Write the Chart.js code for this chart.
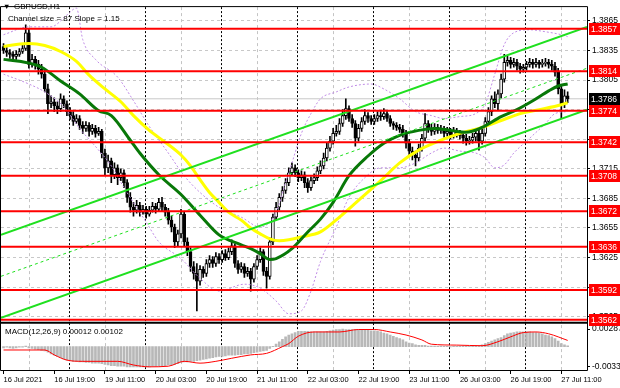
<!DOCTYPE html>
<html><head><meta charset="utf-8">
<script src="https://cdn.jsdelivr.net/npm/chart.js@4.4.1/dist/chart.umd.min.js"></script>
<style>html,body{margin:0;padding:0;background:#fff;overflow:hidden}canvas{display:block}</style>
</head><body>
<canvas id="c" width="620" height="388"></canvas>
<script>
// ---------- texts ----------
const symbolTitle = 'GBPUSD,H1';
const channelInfo = 'Channel size = 87 Slope = 1.15';
const macdTitle = 'MACD(12,26,9) 0.00012 0.00102';

// ---------- time axis (bar index -> label) ----------
const tickBars = [0,16,32,48,64,80,96,112,128,144,160,176];
const tickLabels = ['16 Jul 2021','16 Jul 19:00','19 Jul 11:00','20 Jul 03:00','20 Jul 19:00','21 Jul 11:00','22 Jul 03:00','22 Jul 19:00','23 Jul 11:00','26 Jul 03:00','26 Jul 19:00','27 Jul 11:00'];
const gridBars = [8,32,56,80,104,128,152,176];
const daySeparatorBars = [20.5,44.5,68.5,92.5,116.5,140.5,164.5];

// ---------- price ticks / levels ----------
const priceTicks = [1.3565,1.3595,1.3625,1.3655,1.3685,1.3715,1.3745,1.3775,1.3805,1.3835,1.3865];
const levels = [1.3857,1.3814,1.3774,1.3742,1.3708,1.3672,1.3636,1.3592,1.3562];
const lastPrice = 1.3786;
const macdTicks = [-0.00332,0,0.00287];

// ---------- OHLC (H1 bars) ----------
const open = [
1.3839,1.3835,1.3833,1.3831,1.3829,1.3831,1.3834,1.3837,1.3853,1.3821,
1.3826,1.3821,1.3816,1.3811,1.3796,1.3781,1.3783,1.3779,1.3776,1.3786,
1.3781,1.3773,1.3769,1.3763,1.3766,1.3759,1.3756,1.3759,1.3753,1.3756,
1.3751,1.3753,1.3731,1.3716,1.3723,1.3709,1.3716,1.3706,1.3711,1.3701,
1.3686,1.3676,1.3673,1.3678,1.3671,1.3674,1.3669,1.3673,1.3677,1.3674,
1.3681,1.3676,1.3671,1.3663,1.3656,1.3641,1.3649,1.3669,1.3641,1.3631,
1.3616,1.3609,1.3601,1.3613,1.3609,1.3619,1.3623,1.3619,1.3626,1.3623,
1.3629,1.3625,1.3631,1.3637,1.3619,1.3613,1.3616,1.3609,1.3611,1.3603,
1.3616,1.3623,1.3631,1.3611,1.3606,1.3641,1.3666,1.3676,1.3686,1.3693,
1.3701,1.3711,1.3716,1.3711,1.3706,1.3709,1.3701,1.3696,1.3703,1.3706,
1.3713,1.3718,1.3726,1.3736,1.3743,1.3751,1.3753,1.3761,1.3769,1.3776,
1.3766,1.3761,1.3746,1.3756,1.3763,1.3769,1.3766,1.3763,1.3766,1.3769,
1.3768,1.3771,1.3766,1.3761,1.3759,1.3757,1.3755,1.3751,1.3741,1.3733,
1.3729,1.3726,1.3736,1.3746,1.3761,1.3756,1.3753,1.3757,1.3754,1.3755,
1.3751,1.3753,1.3749,1.3753,1.3751,1.3749,1.3746,1.3743,1.3744,1.3747,
1.3751,1.3743,1.3751,1.3763,1.3773,1.3786,1.3781,1.3791,1.3806,1.3823,
1.3825,1.3821,1.3823,1.3819,1.3816,1.3818,1.3821,1.3823,1.3821,1.3823,
1.3821,1.3822,1.3823,1.3821,1.3819,1.3813,1.3796,1.3781,1.3789];
const high = [
1.3842,1.3838,1.3836,1.3834,1.3835,1.3837,1.3841,1.3861,1.3857,1.3831,
1.3829,1.3825,1.3821,1.3815,1.3801,1.3789,1.3787,1.3783,1.3791,1.3789,
1.3784,1.3777,1.3773,1.3770,1.3769,1.3763,1.3763,1.3762,1.3760,1.3759,
1.3757,1.3755,1.3735,1.3729,1.3726,1.3721,1.3719,1.3715,1.3714,1.3704,
1.3691,1.3681,1.3683,1.3681,1.3678,1.3677,1.3677,1.3681,1.3680,1.3685,
1.3686,1.3679,1.3675,1.3667,1.3659,1.3653,1.3674,1.3672,1.3645,1.3635,
1.3621,1.3619,1.3617,1.3616,1.3623,1.3627,1.3626,1.3630,1.3629,1.3632,
1.3633,1.3635,1.3643,1.3639,1.3622,1.3620,1.3619,1.3615,1.3614,1.3619,
1.3627,1.3635,1.3633,1.3615,1.3645,1.3669,1.3681,1.3690,1.3697,1.3705,
1.3716,1.3721,1.3719,1.3714,1.3713,1.3712,1.3705,1.3707,1.3710,1.3717,
1.3723,1.3731,1.3741,1.3748,1.3756,1.3759,1.3766,1.3775,1.3786,1.3779,
1.3770,1.3764,1.3760,1.3767,1.3775,1.3772,1.3769,1.3770,1.3773,1.3774,
1.3776,1.3774,1.3769,1.3763,1.3762,1.3760,1.3759,1.3754,1.3745,1.3737,
1.3733,1.3740,1.3750,1.3771,1.3764,1.3760,1.3761,1.3760,1.3759,1.3758,
1.3757,1.3756,1.3757,1.3756,1.3754,1.3752,1.3750,1.3748,1.3751,1.3754,
1.3754,1.3755,1.3767,1.3777,1.3789,1.3793,1.3795,1.3811,1.3831,1.3829,
1.3828,1.3827,1.3826,1.3822,1.3821,1.3824,1.3827,1.3826,1.3827,1.3825,
1.3826,1.3827,1.3826,1.3825,1.3823,1.3817,1.3799,1.3795,1.3793];
const low = [
1.3832,1.3829,1.3827,1.3825,1.3826,1.3829,1.3832,1.3835,1.3817,1.3818,
1.3816,1.3811,1.3807,1.3793,1.3771,1.3777,1.3773,1.3771,1.3773,1.3777,
1.3769,1.3765,1.3759,1.3761,1.3755,1.3751,1.3753,1.3748,1.3750,1.3747,
1.3749,1.3726,1.3709,1.3711,1.3701,1.3705,1.3699,1.3703,1.3696,1.3681,
1.3671,1.3667,1.3670,1.3667,1.3669,1.3665,1.3667,1.3671,1.3670,1.3672,
1.3672,1.3667,1.3659,1.3651,1.3635,1.3637,1.3645,1.3636,1.3627,1.3611,
1.3603,1.3571,1.3597,1.3605,1.3606,1.3615,1.3615,1.3616,1.3619,1.3620,
1.3622,1.3623,1.3628,1.3615,1.3609,1.3610,1.3605,1.3606,1.3591,1.3600,
1.3613,1.3620,1.3607,1.3594,1.3603,1.3638,1.3663,1.3673,1.3682,1.3690,
1.3698,1.3708,1.3707,1.3702,1.3703,1.3696,1.3691,1.3693,1.3700,1.3703,
1.3710,1.3715,1.3723,1.3733,1.3740,1.3748,1.3750,1.3758,1.3765,1.3763,
1.3757,1.3738,1.3743,1.3753,1.3760,1.3762,1.3760,1.3760,1.3763,1.3764,
1.3765,1.3763,1.3758,1.3755,1.3754,1.3752,1.3747,1.3736,1.3729,1.3724,
1.3718,1.3723,1.3733,1.3743,1.3752,1.3749,1.3750,1.3751,1.3751,1.3747,
1.3748,1.3745,1.3746,1.3747,1.3745,1.3741,1.3739,1.3740,1.3741,1.3743,
1.3734,1.3740,1.3748,1.3760,1.3769,1.3777,1.3775,1.3787,1.3803,1.3819,
1.3817,1.3818,1.3815,1.3812,1.3813,1.3815,1.3818,1.3817,1.3818,1.3817,
1.3818,1.3819,1.3817,1.3815,1.3809,1.3791,1.3766,1.3777,1.3782];
const close = [
1.3835,1.3833,1.3831,1.3829,1.3831,1.3834,1.3837,1.3853,1.3821,1.3826,
1.3821,1.3816,1.3811,1.3796,1.3781,1.3783,1.3779,1.3776,1.3786,1.3781,
1.3773,1.3769,1.3763,1.3766,1.3759,1.3756,1.3759,1.3753,1.3756,1.3751,
1.3753,1.3731,1.3716,1.3723,1.3709,1.3716,1.3706,1.3711,1.3701,1.3686,
1.3676,1.3673,1.3678,1.3671,1.3674,1.3669,1.3673,1.3677,1.3674,1.3681,
1.3676,1.3671,1.3663,1.3656,1.3641,1.3649,1.3669,1.3641,1.3631,1.3616,
1.3609,1.3601,1.3613,1.3609,1.3619,1.3623,1.3619,1.3626,1.3623,1.3629,
1.3625,1.3631,1.3637,1.3619,1.3613,1.3616,1.3609,1.3611,1.3603,1.3616,
1.3623,1.3631,1.3611,1.3606,1.3641,1.3666,1.3676,1.3686,1.3693,1.3701,
1.3711,1.3716,1.3711,1.3706,1.3709,1.3701,1.3696,1.3703,1.3706,1.3713,
1.3718,1.3726,1.3736,1.3743,1.3751,1.3753,1.3761,1.3769,1.3776,1.3766,
1.3761,1.3746,1.3756,1.3763,1.3769,1.3766,1.3763,1.3766,1.3769,1.3768,
1.3771,1.3766,1.3761,1.3759,1.3757,1.3755,1.3751,1.3741,1.3733,1.3729,
1.3726,1.3736,1.3746,1.3761,1.3756,1.3753,1.3757,1.3754,1.3755,1.3751,
1.3753,1.3749,1.3753,1.3751,1.3749,1.3746,1.3743,1.3744,1.3747,1.3751,
1.3743,1.3751,1.3763,1.3773,1.3786,1.3781,1.3791,1.3806,1.3823,1.3825,
1.3821,1.3823,1.3819,1.3816,1.3818,1.3821,1.3823,1.3821,1.3823,1.3821,
1.3822,1.3823,1.3821,1.3819,1.3813,1.3796,1.3781,1.3789,1.3786];

// ---------- indicators (read at sample bars) ----------
const maSlowBars = [0,4,8,13,18,23,27,32,37,41,46,51,56,59,62,65,68,71,75,78,81,84,87,90,94,100,106,112,119,125,131,138,144,150,157,163,169,176,178];
const maSlowVals = [1.3839,1.3841,1.3842,1.3840,1.3834,1.3824,1.3810,1.3796,1.3783,1.3769,1.3754,1.3742,1.3729,1.3718,1.3704,1.3691,1.3681,1.3671,1.3663,1.3655,1.3649,1.3644,1.3642,1.3643,1.3646,1.3651,1.3666,1.3683,1.3703,1.3721,1.3734,1.3744,1.3751,1.3756,1.3764,1.3771,1.3775,1.3780,1.3782];
const maFastBars = [0,5,12,18,24,30,34,40,43,49,56,62,68,75,78,81,84,86,91,96,100,104,109,115,120,125,131,136,141,146,151,157,162,167,172,175,178];
const maFastVals = [1.3826,1.3824,1.3818,1.3804,1.3791,1.3774,1.3769,1.3744,1.3731,1.3709,1.3689,1.3668,1.3648,1.3638,1.3634,1.3629,1.3623,1.3624,1.3634,1.3651,1.3664,1.3681,1.3708,1.3728,1.3741,1.3749,1.3754,1.3756,1.3754,1.3752,1.3757,1.3768,1.3775,1.3784,1.3794,1.3799,1.3801];
const bandUpBars = [0,8,15,20,23,25,29,36,41,46,52,57,62,68,75,81,86,89,91,94,97,100,105,109,116,120,125,130,135,139,144,149,152,155,158,161,166,171,176,178];
const bandUpVals = [1.3851,1.3859,1.3859,1.3871,1.3878,1.3846,1.3826,1.3808,1.3784,1.3758,1.3731,1.3708,1.3691,1.3676,1.3666,1.3656,1.3671,1.3701,1.3721,1.3751,1.3771,1.3786,1.3793,1.3798,1.3801,1.3796,1.3786,1.3773,1.3769,1.3766,1.3768,1.3771,1.3781,1.3811,1.3841,1.3853,1.3856,1.3854,1.3851,1.3849];
const bandLoBars = [0,8,13,19,24,30,34,38,45,49,56,62,68,76,81,86,90,94,97,100,105,109,114,119,125,130,135,139,144,149,152,155,158,161,166,171,174,178];
const bandLoVals = [1.3811,1.3801,1.3793,1.3778,1.3756,1.3734,1.3718,1.3696,1.3661,1.3641,1.3624,1.3604,1.3591,1.3598,1.3594,1.3581,1.3568,1.3571,1.3591,1.3621,1.3656,1.3686,1.3706,1.3716,1.3716,1.3721,1.3731,1.3736,1.3733,1.3731,1.3726,1.3716,1.3719,1.3731,1.3746,1.3761,1.3771,1.3773];

// regression channel: prices at left and right edge of the window
const channelBars = [-0.8, 184.1];
const channelUpper = [1.3648, 1.3859];
const channelMiddle = [1.3606, 1.3817];
const channelLower = [1.3564, 1.3775];

// MACD
const macdHist = [
-0.0002,-0.0001,-0.0002,-0.0003,-0.0002,-0.0001,-0.0001,0.0001,-0.0002,-0.0003,-0.0004,-0.0005,-0.0006,-0.0007,
-0.0009,-0.0012,-0.0014,-0.0016,-0.0018,-0.0020,-0.0022,
-0.0023,-0.0024,-0.0024,-0.0025,-0.0025,-0.0026,-0.0026,-0.0027,-0.0027,-0.0027,
-0.0028,-0.0029,-0.0030,-0.0031,-0.0031,-0.0032,-0.0032,-0.0032,-0.0033,-0.0033,-0.0033,
-0.0033,-0.0033,-0.0033,-0.0033,-0.0033,-0.0032,-0.0032,-0.0032,-0.0031,-0.0031,-0.0030,
-0.0030,-0.0029,-0.0028,-0.0026,-0.0025,-0.0025,-0.0024,-0.0024,-0.0023,-0.0022,
-0.0021,-0.0020,-0.0019,-0.0018,-0.0017,-0.0016,-0.0016,-0.0015,-0.0014,-0.0014,
-0.0014,-0.0013,-0.0013,-0.0012,-0.0012,-0.0011,-0.0010,-0.0009,-0.0008,-0.0007,-0.0006,-0.0003,
0.00003,0.0004,0.0008,0.0012,0.0016,0.0019,0.0021,0.0023,0.0025,
0.0025,0.0025,0.0025,0.0024,0.0024,0.0024,0.0024,0.0024,0.0025,0.0026,0.0027,0.0028,0.0028,0.00287,
0.0028,0.0028,0.0028,0.0028,0.0028,0.0027,0.0027,0.0027,0.0026,0.0026,
0.0025,0.0024,0.0022,0.0021,0.0019,0.0017,0.0015,0.0013,0.0011,0.0008,0.0006,0.0005,0.0003,
0.0002,0.0002,0.0002,0.0001,0.0001,0.0001,0.00004,0.0001,0.00004,0.00003,-0.00005,0.00003,0.00004,0.00004,0.0001,0.00005,0.00004,0.0001,0.0001,0.0001,
0.0003,0.0005,0.0007,0.0009,0.0011,0.0013,0.0015,0.0018,0.0021,0.0022,
0.0023,0.0024,0.0024,0.0024,0.0024,0.0024,0.0023,0.0023,0.0022,0.0021,
0.0019,0.0018,0.0016,0.0013,0.0009,0.0005,0.0003,0.00012];
const signalBars = [0,13,16,20,25,36,41,46,52,57,62,67,72,78,83,88,90,93,98,106,112,117,122,127,132,135,143,151,156,160,164,168,172,178];
const signalVals = [-0.00055,-0.00055,-0.00135,-0.0022,-0.0024,-0.0024,-0.0030,-0.0033,-0.0032,-0.0024,-0.0027,-0.0024,-0.0019,-0.00135,-0.0011,0,0.0005,0.0017,0.0024,0.0024,0.0028,0.0028,0.0024,0.0019,0.0011,0.0004,0.00025,0.00015,0.0008,0.0016,0.0023,0.0024,0.0021,0.00102];

// ---------- chart ----------
const FONT = "'Liberation Sans', Arial, sans-serif";
const X_MIN = -0.8, X_MAX = 184.1;
const pts = (xs, ys) => xs.map((b, i) => ({x: b, y: ys[i]}));
const idx = open.map((_, i) => i);

const lineDs = (data, color, width, dash, axis, order) => ({
  type: 'line', data, borderColor: color, borderWidth: width, borderDash: dash || [],
  pointRadius: 0, fill: false, cubicInterpolationMode: 'monotone', yAxisID: axis || 'y', order
});

const datasets = [
  // levels (top)
  ...levels.map(l => lineDs([{x: X_MIN, y: l}, {x: X_MAX, y: l}], '#ff0000', 2, null, 'y', 1)),
  lineDs(channelBars.map((b, i) => ({x: b, y: channelUpper[i]})), '#1fe01f', 2, null, 'y', 2),
  lineDs(channelBars.map((b, i) => ({x: b, y: channelMiddle[i]})), '#1fe01f', 1, [3, 3], 'y', 2),
  lineDs(channelBars.map((b, i) => ({x: b, y: channelLower[i]})), '#1fe01f', 2, null, 'y', 2),
  lineDs(pts(maFastBars, maFastVals), '#087808', 3, null, 'y', 3),
  lineDs(pts(maSlowBars, maSlowVals), '#ffff00', 3, null, 'y', 3),
  lineDs(pts(bandUpBars, bandUpVals), '#c08ce6', 1, [2, 2], 'y', 4),
  lineDs(pts(bandLoBars, bandLoVals), '#c08ce6', 1, [2, 2], 'y', 4),
  {
    type: 'bar', data: idx.map(i => ({x: i, y: [open[i], close[i]]})),
    backgroundColor: idx.map(i => close[i] >= open[i] ? '#ffffff' : '#000000'),
    borderColor: '#000000', borderWidth: 1, borderSkipped: false,
    barThickness: 3, grouped: false, yAxisID: 'y', order: 6
  },
  {
    type: 'bar', data: idx.map(i => ({x: i, y: [low[i], high[i]]})),
    backgroundColor: '#000000', barThickness: 1, grouped: false, yAxisID: 'y', order: 7
  },
  lineDs([{x: X_MIN, y: lastPrice}, {x: X_MAX, y: lastPrice}], '#c8c8c8', 1, null, 'y', 8),
  lineDs(pts(signalBars, signalVals), '#ff0000', 1, null, 'y2', 1),
  {
    type: 'bar', data: macdHist.map((v, i) => ({x: i, y: v})),
    backgroundColor: '#b8b8b8', barThickness: 2, grouped: false, yAxisID: 'y2', order: 5
  }
];

const overlay = {
  id: 'overlay',
  beforeDatasetsDraw(chart) {
    const {ctx, chartArea: a, scales: {x}} = chart;
    ctx.save();
    ctx.lineWidth = 1;
    ctx.strokeStyle = '#c4c4c4';
    ctx.setLineDash([3, 3]);
    gridBars.forEach(b => {
      const px = Math.round(x.getPixelForValue(b)) + 0.5;
      ctx.beginPath(); ctx.moveTo(px, a.top); ctx.lineTo(px, a.bottom); ctx.stroke();
    });
    ctx.strokeStyle = '#000000';
    ctx.setLineDash([2, 2]);
    daySeparatorBars.forEach(b => {
      const px = Math.round(x.getPixelForValue(b)) + 0.5;
      ctx.beginPath(); ctx.moveTo(px, a.top); ctx.lineTo(px, a.bottom); ctx.stroke();
    });
    ctx.restore();
  },
  afterDatasetsDraw(chart) {
    const {ctx, chartArea: a, scales: {y, y2}} = chart;
    ctx.save();
    // frame
    ctx.strokeStyle = '#000'; ctx.lineWidth = 1; ctx.setLineDash([]);
    ctx.beginPath();
    ctx.moveTo(a.left - 0.5, a.top - 0.5); ctx.lineTo(a.right + 0.5, a.top - 0.5);
    ctx.moveTo(a.left - 0.5, a.top - 0.5); ctx.lineTo(a.left - 0.5, a.bottom + 0.5);
    ctx.moveTo(a.right + 0.5, a.top - 0.5); ctx.lineTo(a.right + 0.5, a.bottom + 0.5);
    ctx.moveTo(a.left - 0.5, a.bottom + 0.5); ctx.lineTo(a.right + 0.5, a.bottom + 0.5);
    ctx.stroke();
    ctx.lineWidth = 2;
    ctx.beginPath(); ctx.moveTo(a.left, y2.top + 1); ctx.lineTo(a.right, y2.top + 1); ctx.stroke();
    // price labels
    ctx.font = '8.5px ' + FONT;
    ctx.textBaseline = 'middle';
    ctx.textAlign = 'left';
    const box = (v, bg) => {
      const py = Math.round(y.getPixelForValue(v));
      ctx.fillStyle = bg;
      ctx.fillRect(a.right + 2, py - 6, 31, 12);
      ctx.fillStyle = '#ffffff';
      ctx.fillText(v.toFixed(4), a.right + 4, py + 0.5);
    };
    levels.forEach(l => box(l, '#ff0000'));
    box(lastPrice, '#000000');
    // titles
    ctx.fillStyle = '#000';
    ctx.font = '7.5px ' + FONT;
    ctx.fillText('\u25BC', a.left + 2, 7);
    ctx.font = '8px ' + FONT;
    ctx.fillText(symbolTitle, a.left + 13, 7);
    ctx.fillText(channelInfo, a.left + 7, 19);
    ctx.fillText(macdTitle, a.left + 4, y2.top + 10);
    ctx.restore();
  }
};

new Chart(document.getElementById('c'), {
  type: 'line',
  data: {datasets},
  options: {
    responsive: false, animation: false, devicePixelRatio: 1,
    layout: {padding: {top: 2, left: 1, right: 0, bottom: 0}},
    plugins: {legend: {display: false}, tooltip: {enabled: false}},
    elements: {point: {radius: 0}},
    scales: {
      x: {
        type: 'linear', min: X_MIN, max: X_MAX, offset: false,
        afterBuildTicks: s => { s.ticks = tickBars.map(v => ({value: v})); },
        afterFit: s => { s.height = 18; },
        ticks: {
          autoSkip: false, maxRotation: 0, align: 'start', padding: 1, color: '#000',
          font: {family: FONT, size: 7.5},
          callback: v => { const k = tickBars.indexOf(v); return k < 0 ? '' : tickLabels[k]; }
        },
        grid: {drawOnChartArea: false, tickLength: 4, color: '#000', offset: false},
        border: {display: false}
      },
      y: {
        type: 'linear', position: 'right', stack: 'panes', stackWeight: 319,
        min: 1.3560, max: 1.3879, beginAtZero: false,
        afterBuildTicks: s => { s.ticks = priceTicks.map(v => ({value: v})); },
        afterFit: s => { s.width = 33; },
        ticks: {color: '#000', padding: 2, font: {family: FONT, size: 8.5}, callback: v => v.toFixed(4)},
        grid: {color: '#c8c8c8', tickColor: '#000', tickLength: 3, tickBorderDash: []},
        border: {display: false, dash: [3, 3]}
      },
      y2: {
        type: 'linear', position: 'right', stack: 'panes', stackWeight: 49,
        min: -0.00382, max: 0.00408, beginAtZero: false,
        afterBuildTicks: s => { s.ticks = macdTicks.map(v => ({value: v})); },
        afterFit: s => { s.width = 33; },
        ticks: {color: '#000', padding: 2, font: {family: FONT, size: 8.5},
          callback: v => v === 0 ? '0.00' : v.toFixed(5)},
        grid: {color: c => (c.tick && c.tick.value === 0) ? '#c8c8c8' : 'rgba(0,0,0,0)',
          tickColor: '#000', tickLength: 3, tickBorderDash: []},
        border: {display: false, dash: [3, 3]}
      }
    }
  },
  plugins: [overlay]
});
</script>
</body></html>
